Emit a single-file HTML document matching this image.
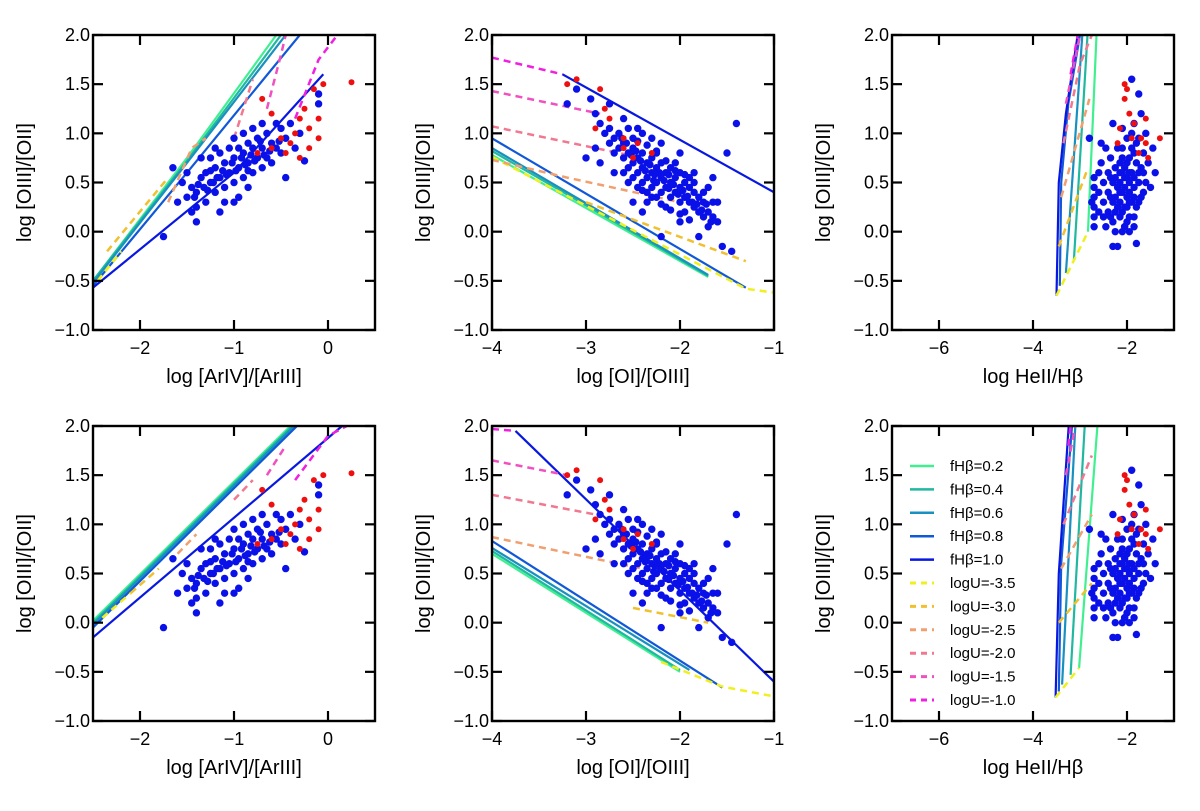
<!DOCTYPE html>
<html><head><meta charset="utf-8"><style>
body{margin:0;background:#fff;}
svg{display:block;font-family:"Liberation Sans","DejaVu Sans",sans-serif;}
</style></head><body>
<svg id="fig" width="1200" height="811" viewBox="0 0 1200 811" xmlns="http://www.w3.org/2000/svg"></svg>
<script>
const yTicks=[-1.0,-0.5,0.0,0.5,1.0,1.5,2.0];
const yTickLabels=["\u22121.0","\u22120.5","0.0","0.5","1.0","1.5","2.0"];
const fhLabels=["fH\u03b2=0.2","fH\u03b2=0.4","fH\u03b2=0.6","fH\u03b2=0.8","fH\u03b2=1.0"];
const uLabels=["logU=-3.5","logU=-3.0","logU=-2.5","logU=-2.0","logU=-1.5","logU=-1.0"];
const fhColors=['#40f090','#20b8a0','#1890c0','#1058d8','#0818e0'];
const uColors=['#f0f020','#f0c030','#f0a070','#f07890','#f050c0','#f020e0'];

// observed data
const arBlue=[[-1.75,-0.05],[-1.65,0.65],[-1.55,0.5],[-1.5,0.35],[-1.45,0.45],[-1.4,0.1],[-1.4,0.25],[-1.4,0.4],[-1.35,0.55],[-1.3,0.6],[-1.3,0.3],[-1.25,0.5],[-1.25,0.75],[-1.2,0.4],[-1.2,0.65],[-1.15,0.55],[-1.15,0.2],[-1.1,0.7],[-1.1,0.45],[-1.05,0.6],[-1.05,0.85],[-1.0,0.5],[-1.0,0.75],[-1.0,0.95],[-0.95,0.65],[-0.95,0.35],[-0.9,0.8],[-0.9,0.55],[-0.85,0.9],[-0.85,0.7],[-0.8,0.6],[-0.8,0.85],[-0.8,1.05],[-0.75,0.75],[-0.75,0.95],[-0.7,0.65],[-0.7,0.85],[-0.65,0.75],[-0.65,1.0],[-0.6,0.9],[-0.6,0.7],[-0.55,0.85],[-0.5,1.05],[-0.5,0.8],[-0.45,0.95],[-0.45,0.55],[-0.4,1.1],[-0.35,0.85],[-0.3,1.0],[-0.25,0.72],[-0.1,1.4],[-0.1,1.3],[-1.6,0.3],[-1.5,0.6],[-1.35,0.75],[-1.2,0.85],[-1.1,0.3],[-0.9,1.0],[-0.7,1.1],[-0.55,1.1],[-1.45,0.2],[-1.0,0.3],[-0.85,0.45],
[-1.38,0.48],[-1.28,0.42],[-1.18,0.55],[-1.08,0.58],[-0.98,0.62],[-0.88,0.68],[-0.78,0.72],[-0.68,0.78],[-1.12,0.62],[-1.02,0.7],[-0.92,0.75],[-0.82,0.78],[-0.72,0.92],[-1.32,0.45],[-1.22,0.5],[-1.42,0.35],[-0.95,0.85],[-0.62,0.82],[-0.52,0.92],[-1.15,0.8],[-1.25,0.62],[-0.85,0.62]];
const arRed=[[-0.7,1.35],[-0.6,1.2],[-0.5,0.95],[-0.4,0.9],[-0.35,1.0],[-0.3,1.15],[-0.25,1.25],[-0.2,1.05],[-0.15,1.45],[-0.1,1.15],[-0.05,1.5],[0.25,1.52],[-0.2,0.85],[-0.45,0.8],[-0.6,0.85],[-0.1,0.95],[-0.3,0.75],[-0.75,0.8]];
const oiBlue=[[-3.2,1.3],[-3.1,1.45],[-2.95,1.35],[-2.9,1.2],[-2.85,1.1],[-2.8,1.0],[-2.75,1.05],[-2.75,0.9],[-2.7,0.95],[-2.7,0.8],[-2.65,1.0],[-2.65,0.85],[-2.6,0.9],[-2.6,0.75],[-2.55,0.8],[-2.55,0.65],[-2.5,0.85],[-2.5,0.7],[-2.5,0.95],[-2.45,0.75],[-2.45,0.6],[-2.4,0.8],[-2.4,0.65],[-2.4,0.5],[-2.35,0.7],[-2.35,0.55],[-2.3,0.75],[-2.3,0.6],[-2.3,0.45],[-2.25,0.65],[-2.25,0.5],[-2.2,0.7],[-2.2,0.55],[-2.2,0.4],[-2.15,0.6],[-2.15,0.45],[-2.1,0.65],[-2.1,0.5],[-2.1,0.35],[-2.05,0.55],[-2.05,0.4],[-2.0,0.6],[-2.0,0.45],[-2.0,0.3],[-1.95,0.5],[-1.95,0.35],[-1.9,0.45],[-1.9,0.3],[-1.85,0.4],[-1.85,0.25],[-1.8,0.35],[-1.8,0.2],[-1.75,0.3],[-1.7,0.2],[-1.65,0.15],[-1.6,0.3],[-1.6,0.1],[-2.9,0.85],[-2.85,0.7],[-2.5,0.3],[-2.4,0.2],[-2.6,1.15],[-2.45,1.05],[-2.3,0.95],[-2.2,0.9],[-2.0,0.8],[-1.85,0.6],[-1.7,0.45],[-1.5,0.8],[-1.4,1.1],[-1.65,0.55],[-2.0,0.1],[-2.2,-0.05],[-1.8,-0.05],[-1.55,-0.15],[-1.45,-0.2],[-2.4,1.0],[-2.55,0.5],[-2.7,0.6],[-3.0,0.75],[-2.75,1.3],[-2.35,0.4],[-2.15,0.25],[-1.95,0.2],[-2.05,0.7],[-1.9,0.55],[-2.25,0.8],[-2.45,0.45],[-1.75,0.15],[-1.7,0.05],
[-2.62,0.95],[-2.57,0.9],[-2.52,0.78],[-2.47,0.82],[-2.42,0.72],[-2.37,0.62],[-2.32,0.68],[-2.27,0.58],[-2.22,0.6],[-2.17,0.52],[-2.12,0.44],[-2.07,0.48],[-2.02,0.38],[-1.97,0.42],[-1.92,0.36],[-1.87,0.3],[-1.82,0.28],[-1.77,0.22],[-1.72,0.28],[-1.67,0.1],[-2.6,0.6],[-2.5,0.55],[-2.4,0.42],[-2.3,0.35],[-2.2,0.28],[-2.1,0.22],[-2.0,0.18],[-1.9,0.12],[-2.55,1.05],[-2.45,0.92],[-2.35,0.88],[-2.25,0.82],[-2.15,0.72],[-2.05,0.62],[-1.95,0.58],[-1.85,0.5],[-1.75,0.4],[-1.65,0.3],[-2.35,0.3],[-2.25,0.35],[-2.12,0.58],[-2.28,0.52]];
const oiRed=[[-3.2,1.5],[-3.1,1.55],[-2.85,1.45],[-2.8,1.25],[-2.9,1.05],[-2.75,1.15],[-2.6,0.95],[-2.45,0.9],[-2.3,0.8],[-2.6,0.85],[-2.5,0.75]];
const heBlue=[[-2.8,0.95],[-2.7,0.45],[-2.7,0.35],[-2.7,0.25],[-2.7,0.15],[-2.7,0.05],[-2.7,0.55],[-2.55,0.9],[-2.55,0.7],[-2.5,0.5],[-2.5,0.3],[-2.45,0.85],[-2.4,0.6],[-2.4,0.4],[-2.4,0.2],[-2.35,0.75],[-2.3,0.5],[-2.3,0.3],[-2.3,0.1],[-2.25,0.65],[-2.2,0.45],[-2.2,0.25],[-2.2,0.85],[-2.15,0.6],[-2.1,0.4],[-2.1,0.2],[-2.1,0.75],[-2.05,0.55],[-2.0,0.35],[-2.0,0.1],[-2.0,0.7],[-2.0,0.95],[-1.95,0.5],[-1.9,0.3],[-1.9,0.6],[-1.9,0.85],[-1.85,0.45],[-1.8,0.25],[-1.8,0.7],[-1.75,0.5],[-1.75,0.95],[-1.7,0.35],[-1.7,0.65],[-1.65,0.8],[-1.6,0.5],[-1.6,1.0],[-1.55,0.7],[-1.5,0.45],[-1.45,0.85],[-1.4,0.6],[-2.3,-0.15],[-2.2,-0.15],[-1.8,-0.12],[-2.1,0.0],[-1.95,0.0],[-2.45,0.05],[-2.5,0.15],[-1.85,1.1],[-2.1,1.05],[-2.3,1.1],[-1.7,1.2],[-1.9,1.55],[-1.75,1.4],[-2.0,0.25],[-2.15,0.3],[-1.95,0.15],[-2.25,0.0],[-1.85,0.15],
[-2.25,0.55],[-2.15,0.5],[-2.05,0.45],[-1.95,0.4],[-1.85,0.35],[-2.25,0.35],[-2.15,0.15],[-2.05,0.25],[-1.95,0.3],[-1.85,0.55],[-2.05,0.65],[-1.95,0.75],[-1.85,0.8],[-1.95,0.6],[-2.15,0.4],[-2.25,0.2],[-2.05,0.05],[-1.75,0.6],[-1.75,0.3],[-1.65,0.4],[-1.65,0.6],[-2.35,0.55],[-2.35,0.35],[-2.35,0.15],[-2.15,0.7],[-2.1,0.85],[-1.8,0.9],[-1.9,1.0],[-2.0,0.55],[-2.1,0.6],[-1.85,0.05],[-2.05,0.05],[-2.6,0.4],[-2.6,0.2],[-2.6,0.6],[-2.75,0.3]];
const heRed=[[-2.05,1.5],[-2.0,1.45],[-2.05,1.35],[-1.95,1.2],[-1.85,1.1],[-2.15,1.05],[-1.9,0.95],[-1.7,0.95],[-1.6,0.9],[-1.55,0.75],[-1.6,1.15],[-1.3,0.95],[-2.2,0.9],[-1.75,0.8]];

// model grids: top row
const t1Fh=[[[-2.5,-0.5],[-1.5,0.75],[-0.55,2.0]],[[-2.5,-0.5],[-1.5,0.72],[-0.5,2.0]],[[-2.5,-0.52],[-1.5,0.7],[-0.45,2.0]],[[-2.5,-0.55],[-1.5,0.6],[-0.3,2.0]],[[-2.5,-0.57],[-1.0,0.6],[-0.05,1.6]]];
const t1U=[[[-2.45,-0.5],[-2.2,-0.2]],[[-2.35,-0.2],[-1.7,0.55]],[[-1.7,0.3],[-1.45,0.85],[-1.3,0.95]],[[-1.0,0.95],[-0.8,1.55]],[[-0.65,1.25],[-0.5,1.8],[-0.45,2.0]],[[-0.35,1.15],[-0.1,1.75],[0.1,2.0]]];
const t2Fh=[[[-4,0.78],[-1.7,-0.46]],[[-4,0.82],[-1.7,-0.45]],[[-4,0.85],[-1.7,-0.44]],[[-4,0.95],[-1.3,-0.57]],[[-3.25,1.6],[-1,0.4]]];
const t2U=[[[-4,0.76],[-1.3,-0.58],[-1,-0.62]],[[-3.0,0.3],[-1.3,-0.3]],[[-4,0.73],[-3.2,0.55],[-2.0,0.3]],[[-4,1.07],[-2.55,0.78]],[[-4,1.43],[-2.85,1.2]],[[-4,1.77],[-3.25,1.6]]];
const t3Fh=[[[-2.83,0.0],[-2.65,2.0]],[[-3.13,-0.29],[-2.84,2.0]],[[-3.3,-0.42],[-2.95,2.0]],[[-3.43,-0.55],[-3.4,0.5],[-3.25,1.3],[-3.0,2.0]],[[-3.5,-0.65],[-3.45,0.5],[-3.3,1.2],[-3.05,2.0]]];
const t3U=[[[-3.5,-0.65],[-2.83,0.0]],[[-3.45,-0.15],[-2.83,0.65]],[[-3.4,0.35],[-2.8,1.35]],[[-3.35,0.9],[-3.0,1.7],[-2.75,2.0]],[[-3.3,1.3],[-3.0,2.0]],[[-3.2,1.6],[-3.05,2.0]]];
// bottom row
const b1Fh=[[[-2.5,0.02],[-0.4,2.0]],[[-2.5,0.0],[-0.38,2.0]],[[-2.5,-0.02],[-0.36,2.0]],[[-2.5,-0.05],[-0.33,2.0]],[[-2.5,-0.15],[0.15,2.0]]];
const b1U=[[[-2.4,0.05],[-2.1,0.3]],[[-2.1,0.3],[-1.8,0.55]],[[-1.6,0.7],[-1.4,0.9]],[[-1.0,1.25],[-0.8,1.45]],[[-0.65,1.5],[-0.45,1.8]],[[-0.35,1.45],[0.0,1.9],[0.2,2.0]]];
const b2Fh=[[[-4,0.7],[-2,-0.5]],[[-4,0.73],[-2,-0.48]],[[-4,0.76],[-1.9,-0.48]],[[-4,0.83],[-1.55,-0.66]],[[-3.75,1.95],[-1,-0.6]]];
const b2U=[[[-2.2,-0.4],[-1.55,-0.65],[-1,-0.75]],[[-2.5,0.15],[-1.7,0.0]],[[-4,0.87],[-2.4,0.55]],[[-4,1.3],[-2.9,1.1]],[[-4,1.65],[-3.2,1.5]],[[-4,1.97],[-3.75,1.95]]];
const b3Fh=[[[-3.02,-0.46],[-2.63,2.0]],[[-3.2,-0.53],[-2.9,2.0]],[[-3.38,-0.63],[-3.1,2.0]],[[-3.45,-0.7],[-3.4,0.6],[-3.17,2.0]],[[-3.52,-0.76],[-3.45,0.5],[-3.24,2.0]]];
const b3U=[[[-3.52,-0.76],[-3.02,-0.46]],[[-3.45,0.0],[-2.75,0.4]],[[-3.4,0.55],[-2.75,1.1]],[[-3.35,1.0],[-2.75,1.7]],[[-3.3,1.5],[-3.1,2.0]],[[-3.25,1.8],[-3.2,2.0]]];

const NS="http://www.w3.org/2000/svg";
const svg=document.getElementById('fig');
function mk(tag,attrs,parent){const e=document.createElementNS(NS,tag);for(const k in attrs)e.setAttribute(k,attrs[k]);(parent||svg).appendChild(e);return e;}

const panels=[
 {id:'p1-top',x0:93,x1:375,y0:35,y1:330,xmin:-2.5,xmax:0.5,xt:[-2,-1,0],xl:["\u22122","\u22121","0"],xlab:'log [ArIV]/[ArIII]',fh:t1Fh,u:t1U,b:arBlue,r:arRed},
 {id:'p2-top',x0:492,x1:774,y0:35,y1:330,xmin:-4,xmax:-1,xt:[-4,-3,-2,-1],xl:["\u22124","\u22123","\u22122","\u22121"],xlab:'log [OI]/[OIII]',fh:t2Fh,u:t2U,b:oiBlue,r:oiRed},
 {id:'p3-top',x0:892,x1:1174,y0:35,y1:330,xmin:-7,xmax:-1,xt:[-6,-4,-2],xl:["\u22126","\u22124","\u22122"],xlab:'log HeII/H\u03b2',fh:t3Fh,u:t3U,b:heBlue,r:heRed},
 {id:'p1-bottom',x0:93,x1:375,y0:426,y1:721,xmin:-2.5,xmax:0.5,xt:[-2,-1,0],xl:["\u22122","\u22121","0"],xlab:'log [ArIV]/[ArIII]',fh:b1Fh,u:b1U,b:arBlue,r:arRed},
 {id:'p2-bottom',x0:492,x1:774,y0:426,y1:721,xmin:-4,xmax:-1,xt:[-4,-3,-2,-1],xl:["\u22124","\u22123","\u22122","\u22121"],xlab:'log [OI]/[OIII]',fh:b2Fh,u:b2U,b:oiBlue,r:oiRed},
 {id:'p3-bottom',x0:892,x1:1174,y0:426,y1:721,xmin:-7,xmax:-1,xt:[-6,-4,-2],xl:["\u22126","\u22124","\u22122"],xlab:'log HeII/H\u03b2',fh:b3Fh,u:b3U,b:heBlue,r:heRed,legend:true}
];

panels.forEach((p,pi)=>{
 const sx=v=>p.x0+(v-p.xmin)/(p.xmax-p.xmin)*(p.x1-p.x0);
 const sy=v=>p.y1-(v+1)/3*(p.y1-p.y0);
 const g=mk('g',{});
 
 
 const cp=mk('clipPath',{id:'clip'+pi},g);
 mk('rect',{x:p.x0,y:p.y0,width:p.x1-p.x0,height:p.y1-p.y0},cp);
 const plot=mk('g',{'clip-path':'url(#clip'+pi+')'},g);
 
 
 const pts=a=>a.map(q=>sx(q[0]).toFixed(1)+','+sy(q[1]).toFixed(1)).join(' ');
 p.fh.forEach((ln,i)=>{
  const e=mk('polyline',{points:pts(ln),fill:'none',stroke:fhColors[i],'stroke-width':2.2},plot);
  
  
 });
 p.u.forEach((ln,i)=>{
  const e=mk('polyline',{points:pts(ln),fill:'none',stroke:uColors[i],'stroke-width':2.5,'stroke-dasharray':'7,5'},plot);
  
  
 });
 p.b.forEach(q=>{
  const c=mk('circle',{cx:sx(q[0]),cy:sy(q[1]),r:3.7,fill:'#0a10e8'},plot);
  
  
 });
 p.r.forEach(q=>{
  const c=mk('circle',{cx:sx(q[0]),cy:sy(q[1]),r:3,fill:'#ee1010'},plot);
  
  
 });
 const fr=mk('rect',{x:p.x0,y:p.y0,width:p.x1-p.x0,height:p.y1-p.y0,fill:'none',stroke:'#000','stroke-width':2.4},g);
 
 
 yTicks.forEach((v,i)=>{
  const y=sy(v);
  mk('line',{x1:p.x0,x2:p.x0+10,y1:y,y2:y,stroke:'#000','stroke-width':2.2},g);
  mk('line',{x1:p.x1,x2:p.x1-10,y1:y,y2:y,stroke:'#000','stroke-width':2.2},g);
  const t=mk('text',{x:p.x0-3,y:y+6,'text-anchor':'end','font-size':18},g);
  t.textContent=yTickLabels[i];
  
  
 });
 p.xt.forEach((v,i)=>{
  const x=sx(v);
  mk('line',{x1:x,x2:x,y1:p.y1,y2:p.y1-10,stroke:'#000','stroke-width':2.2},g);
  mk('line',{x1:x,x2:x,y1:p.y0,y2:p.y0+10,stroke:'#000','stroke-width':2.2},g);
  const t=mk('text',{x:x,y:p.y1+24,'text-anchor':'middle','font-size':18},g);
  t.textContent=p.xl[i];
  
  
 });
 const xt=mk('text',{x:(p.x0+p.x1)/2,y:p.y1+53,'text-anchor':'middle','font-size':20},g);
 xt.textContent=p.xlab;
 
 
 const yc=(p.y0+p.y1)/2;
 const yt=mk('text',{x:p.x0-62,y:yc,'text-anchor':'middle','font-size':20,transform:'rotate(-90 '+(p.x0-62)+' '+yc+')'},g);
 yt.textContent='log [OIII]/[OII]';
 
 
 if(p.legend){
  const lg=mk('g',{},g);
  
  
  const labels=fhLabels.concat(uLabels);
  labels.forEach((lb,i)=>{
   const y=466+i*23.4;
   const isU=i>=5;
   const ent=mk('g',{},lg);
   
   
   mk('line',{x1:910,x2:934,y1:y,y2:y,stroke:isU?uColors[i-5]:fhColors[i],'stroke-width':isU?3:2.5,'stroke-dasharray':isU?'6,5':'none'},ent);
   const t=mk('text',{x:950,y:y+5,'font-size':15},ent);
   t.textContent=lb;
  });
 }
});
</script>
</body></html>
